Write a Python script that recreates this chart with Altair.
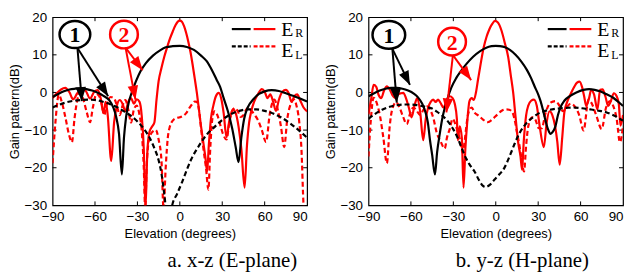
import math
import altair as alt
import pandas as pd

W, H = 257, 190
X_DOMAIN = [-90, 90]
Y_DOMAIN = [-30, 20]
X_TICKS = [-90, -60, -30, 0, 30, 60, 90]
Y_TICKS = [-30, -20, -10, 0, 10, 20]

# ---------------- panel a : x-z (E-plane) ----------------
A_BLACK_SOLID = [(-90, -1.2), (-86, -0.4), (-82, 0.3), (-78, 0.8), (-74, 1.0), (-70, 1.1), (-66, 0.9),
                 (-62, 0.5), (-58, -0.1), (-54, -0.9), (-50, -2.0), (-47, -4.0), (-45, -6.5), (-43, -11.0),
                 (-41, -21.8), (-39.5, -12.0), (-38, -6.5), (-36, -2.5), (-34, 0.0), (-31, 3.0), (-28, 5.5),
                 (-24, 7.8), (-19, 9.8), (-14, 11.2), (-10, 12.0), (-5, 12.3), (0, 12.4), (5, 12.1),
                 (10, 11.3), (15, 9.8), (19, 8.3), (23, 5.7), (26, 3.4), (28.5, 1.5), (31, -1.5), (34, -5.0),
                 (37, -9.5), (39.5, -14.5), (41.5, -18.5), (43.5, -12.0), (45.5, -7.0), (48, -4.0),
                 (52, -1.8), (56, -0.4), (60, 0.3), (65, 0.6), (70, 0.4), (75, -0.2), (80, -0.9),
                 (85, -1.6), (90, -2.4)]
A_BLACK_DASHED = [(-90, -4.0), (-85, -3.2), (-80, -2.6), (-75, -2.2), (-70, -2.0), (-65, -1.9), (-60, -2.0),
                  (-55, -2.4), (-50, -3.0), (-45, -3.8), (-40, -4.9), (-35, -6.1), (-30, -7.7), (-25, -9.9),
                  (-21, -12.3), (-18, -14.8), (-15, -18.0), (-13, -21.5), (-11, -27.0), (-9, -33.0),
                  (-7, -34.0), (-5.4, -30.0), (-2, -27.0), (1.6, -23.8), (5, -20.5), (8, -17.8), (13, -14.5),
                  (19, -11.2), (25, -9.0), (30, -7.3), (36, -5.8), (42, -4.9), (48, -4.5), (54, -4.5),
                  (60, -4.9), (66, -5.6), (72, -6.7), (78, -8.2), (84, -10.0), (90, -12.0)]
A_RED_SOLID = [(-90, -1.5), (-87, -0.2), (-84, 0.8), (-81, 1.2), (-78, 0.0), (-75.5, -1.8), (-72.5, -0.2),
               (-69.5, 0.9), (-66.5, 0.4), (-63.5, -1.6), (-60.5, 0.2), (-58, 0.6), (-56, -1.5), (-54, -5.5),
               (-52.5, -2.5), (-51, -6.0), (-48.5, -18.2), (-46.5, -8.0), (-44.5, -3.5), (-42.5, -2.0),
               (-40.5, -3.0), (-38.5, -5.0), (-36.5, -2.5), (-34.5, -1.5), (-32.5, -3.0), (-30.5, -1.8),
               (-28.5, -2.5), (-27, -6.0), (-25.5, -15.0), (-24.3, -31.0), (-23, -16.0), (-21.5, -10.5),
               (-19.5, -9.0), (-18, -8.0), (-16.5, -2.0), (-15, 3.0), (-13, 6.5), (-11, 9.5), (-9, 12.0),
               (-7, 14.3), (-5, 16.2), (-3, 17.9), (-1.5, 18.8), (0, 19.1), (1.5, 18.8), (3, 17.6),
               (4.5, 15.8), (6, 13.5), (7.5, 10.8), (9, 7.5), (10.5, 3.8), (12, 0.0), (13.5, -4.5),
               (15, -9.0), (16.5, -13.0), (18, -17.0), (19.3, -21.0), (20.5, -14.0), (22, -7.0),
               (23.7, -3.5), (25.5, -1.0), (27.5, -0.1), (29.5, -2.0), (31, -5.5), (33, -11.9), (35, -7.5),
               (37.5, -4.5), (39.5, -5.5), (41.5, -9.0), (43.5, -15.0), (45.8, -25.3), (47.5, -14.0),
               (49, -8.0), (50.5, -5.0), (52.5, -2.5), (55, -0.6), (58, 0.9), (60, 0.2), (62, -1.5),
               (64, -0.5), (66, -2.5), (68, -4.9), (70, -2.0), (72.5, 0.2), (75, 0.7), (77, -0.2),
               (79, -2.5), (81, -1.0), (83, -0.5), (85, -2.0), (87.5, -4.0), (90, -5.0)]
A_RED_DASHED = [(-90, -18.8), (-88, -8.0), (-85.6, -0.6), (-83.5, -2.5), (-81, -6.5), (-78.5, -11.0),
                (-76.3, -13.2), (-74.5, -7.0), (-72.5, -2.0), (-70.5, -0.1), (-68.5, -1.5), (-66, -5.0),
                (-63.5, -7.9), (-61.5, -4.0), (-59, -0.4), (-57, -1.0), (-55, -3.5), (-53.5, -6.0),
                (-51.5, -3.0), (-49, -1.2), (-46.5, -1.6), (-44.5, -3.5), (-42.5, -6.0), (-40.5, -3.5),
                (-38.5, -2.0), (-36.5, -4.5), (-34.5, -8.0), (-32.5, -4.5), (-30.5, -3.5), (-28.5, -6.0),
                (-27, -10.0), (-25.5, -20.0), (-24.5, -31.0), (-23.5, -20.0), (-22, -13.0), (-19.5, -10.5),
                (-17, -10.0), (-15, -12.5), (-13, -18.0), (-11.5, -31.0), (-10, -20.0), (-8.5, -12.0),
                (-7, -9.0), (-5, -7.5), (-2.5, -6.8), (0, -6.6), (2.5, -6.2), (4.5, -5.5), (6.5, -4.3),
                (8.5, -3.2), (10.5, -2.4), (12, -2.5), (13.5, -4.5), (15, -9.5), (16.7, -15.0), (18.5, -20.0),
                (20.2, -25.8), (21.5, -15.0), (23, -7.0), (24.5, -5.0), (26.5, -6.0), (28.5, -8.5),
                (30.5, -11.0), (33, -12.5), (35, -8.0), (37, -5.0), (39, -4.1), (41, -5.0), (43, -6.5),
                (45, -6.0), (47, -4.5), (48.5, -4.1), (50.5, -4.8), (53, -6.0), (55.5, -7.5), (58, -10.0),
                (61, -13.2), (63.5, -6.0), (66.8, -1.9), (69.5, -5.0), (71.5, -9.0), (73.8, -14.5),
                (76, -7.0), (78.5, -3.0), (80.7, -1.9), (82.5, -3.5), (84.5, -8.0), (86, -15.0),
                (87.5, -30.0), (88.5, -34.0), (90, -34.0)]
# circled numbers: label, deg, dB, colour, width(px), aspect
A_CIRCLES = [("1", -74.2, 15.4, "#000000", 31, 0.88), ("2", -39.5, 15.4, "#ff0000", 28, 1.0)]
# arrows: from (deg, dB) to tip (deg, dB)
A_ARROWS = [(-72.4, 11.8, -69.3, -2.3, "#000000"), (-72.4, 11.8, -50.7, -1.0, "#000000"),
            (-38.4, 11.9, -26.3, 5.9, "#ff0000"), (-38.4, 11.9, -31.4, -1.9, "#ff0000")]
A_CAPTION = "a. x-z (E-plane)"

# ---------------- panel b : y-z (H-plane) ----------------
B_BLACK_SOLID = [(-90, -1.0), (-86, -0.2), (-82, 0.5), (-78, 1.0), (-74, 1.2), (-70, 1.2), (-66, 1.0),
                 (-62, 0.5), (-58, -0.3), (-55, -1.3), (-52, -3.0), (-50, -4.9), (-48, -8.0), (-46.5, -12.7),
                 (-45, -16.5), (-43, -21.8), (-41.5, -16.0), (-39.6, -11.0), (-38, -7.3), (-36, -4.0),
                 (-34, -1.5), (-31.5, 1.2), (-28, 3.8), (-24.4, 5.8), (-20.7, 7.6), (-16, 9.5), (-11, 11.0),
                 (-6.7, 11.9), (-3, 12.3), (0, 12.4), (3, 12.3), (6.5, 12.0), (10, 11.3), (14, 10.0),
                 (18.1, 8.2), (22, 6.0), (25, 3.8), (27.5, 1.6), (30, -0.5), (31.7, -2.3), (33.5, -4.8),
                 (35.2, -7.5), (37, -9.8), (38.7, -11.0), (40.3, -10.5), (42.2, -9.0), (44, -6.0),
                 (45.7, -4.0), (48.5, -2.2), (52.7, -0.9), (57, 0.0), (62, 0.7), (66, 0.9), (70, 0.7),
                 (73.8, 0.3), (78, -0.4), (83.1, -1.4), (87, -2.6), (90, -3.6)]
B_BLACK_DASHED = [(-90, -7.0), (-85, -5.6), (-80, -4.5), (-75, -3.8), (-70, -3.4), (-65, -3.2), (-60, -3.2),
                  (-55, -3.4), (-50, -3.8), (-45.5, -4.2), (-42, -5.0), (-38, -6.1), (-34, -7.6), (-30, -9.8),
                  (-27, -12.0), (-24.4, -14.5), (-21, -17.5), (-17.4, -19.8), (-15, -21.0), (-12, -23.2),
                  (-9, -24.8), (-7, -25.1), (-4, -24.5), (-1, -23.2), (2, -22.0), (6, -20.1), (10.6, -16.2),
                  (13.5, -13.5), (16.5, -11.0), (19.5, -9.2), (22.3, -7.9), (27, -6.4), (31.7, -5.3),
                  (37, -4.7), (43.4, -4.3), (50, -4.1), (55, -4.0), (61, -4.2), (66.8, -4.5), (72, -4.8),
                  (78.4, -5.3), (84, -6.2), (90, -7.5)]
B_RED_SOLID = [(-90, -5.8), (-88, -1.5), (-86.4, 2.0), (-84.5, 1.5), (-82.9, -0.6), (-81, -1.5), (-79, 0.5),
               (-77, 1.6), (-75, 0.8), (-73, -0.8), (-71, -1.5), (-69, -0.5), (-67, -0.2), (-65.4, -0.1),
               (-63.5, -1.5), (-61.5, -4.0), (-59.5, -6.6), (-57.5, -3.5), (-55.5, -1.5), (-53.5, -5.0),
               (-51.3, -12.7), (-49.5, -7.0), (-47.8, -4.0), (-46, -2.5), (-44.3, -1.9), (-42.5, -2.5),
               (-40.8, -1.9), (-39, -2.8), (-37, -4.0), (-35, -2.5), (-32.6, -1.0), (-30.5, -1.5),
               (-29, -3.0), (-27.5, -7.0), (-26.8, -12.7), (-25.5, -9.0), (-24, -12.0), (-22.8, -25.3),
               (-21.5, -15.0), (-20.2, -8.0), (-18.6, -2.3), (-17, -1.5), (-15.5, -2.0), (-14, 0.0),
               (-12.5, 3.5), (-10.5, 8.0), (-8.5, 12.0), (-6.5, 14.8), (-4.5, 16.8), (-2.5, 18.2),
               (-0.6, 19.0), (1.5, 18.6), (4.1, 16.4), (6.5, 13.0), (8.8, 9.4), (10.6, 4.6), (12.3, 0.0),
               (14, -6.5), (15.8, -13.1), (17.5, -17.0), (18.6, -20.5), (19.8, -13.0), (21.5, -6.0),
               (23, -3.5), (25, -2.2), (27, -1.9), (29, -3.5), (31, -8.8), (34, -14.5), (36, -8.0),
               (38, -5.0), (40, -6.0), (42, -9.0), (43.5, -13.0), (45.2, -19.2), (47, -12.0), (48.5, -5.3),
               (50.5, -2.5), (52.7, -0.6), (55.5, 1.5), (57.5, 2.6), (59.3, 2.9), (61, 1.5), (62.5, -1.0),
               (64, -3.6), (66, -1.5), (67.5, 0.7), (69.5, -0.5), (71.9, -4.5), (73.8, 0.7), (75.5, 0.8),
               (77.5, -1.0), (79.5, -3.6), (81.2, -2.5), (83.5, -0.2), (85.5, -1.0), (87, -3.0),
               (88.2, -8.8), (90, -6.0)]
B_RED_DASHED = [(-90, -17.0), (-88.5, -8.0), (-86.4, -1.4), (-84, -3.0), (-81.7, -6.6), (-79.5, -12.0),
                (-77, -18.8), (-75, -9.0), (-73.5, -4.9), (-70.5, -2.6), (-68, -4.0), (-65.5, -6.5),
                (-63, -8.4), (-60.5, -5.5), (-58.3, -4.0), (-56, -4.8), (-53.5, -6.0), (-51, -4.5),
                (-49, -3.6), (-46.5, -4.5), (-44, -7.0), (-41.9, -10.5), (-39, -13.0), (-36.1, -14.9),
                (-34.5, -12.0), (-32.6, -9.8), (-30.5, -7.0), (-28.5, -8.5), (-26.5, -11.0), (-25, -13.0),
                (-23.5, -16.0), (-22, -13.0), (-20.5, -8.0), (-19, -5.0), (-17, -4.0), (-15.1, -5.3),
                (-12, -6.2), (-9, -7.2), (-5.7, -7.9), (-2, -7.0), (1.3, -5.8), (4.5, -4.8), (7.2, -4.5),
                (9.5, -4.6), (11.8, -5.3), (13.5, -7.5), (15.2, -11.0), (16.5, -13.5), (18.2, -17.5),
                (20, -21.0), (21.5, -14.0), (23, -9.0), (25.8, -6.6), (28, -7.2), (30.5, -9.5),
                (32.5, -9.5), (35.2, -5.5), (38.7, -2.7), (42.2, -2.3), (45, -3.5), (47.5, -5.0), (50, -4.0),
                (53, -3.0), (56, -3.8), (59, -6.0), (62.1, -10.1), (65.6, -1.9), (68, -3.0), (71, -6.0),
                (74.9, -9.7), (78, -4.0), (80.8, -2.3), (83, -3.5), (85.5, -7.0), (87.8, -13.2), (90, -9.0)]
B_CIRCLES = [("1", -75.6, 15.3, "#000000", 33, 0.85), ("2", -30.9, 13.5, "#ff0000", 28, 1.0)]
B_ARROWS = [(-73.1, 11.6, -70.0, -2.7, "#000000"), (-73.1, 11.6, -60.7, 2.0, "#000000"),
            (-30.3, 9.9, -17.4, 3.3, "#ff0000"), (-30.3, 9.9, -34.9, -5.3, "#ff0000")]
B_CAPTION = "b. y-z (H-plane)"

SANS = "Liberation Sans"
SERIF = "Liberation Serif"
BLACK, RED = "#000000", "#ff0000"

XS = alt.Scale(domain=X_DOMAIN, nice=False, zero=False)
YS = alt.Scale(domain=Y_DOMAIN, nice=False, zero=False)
X_TITLE = "Elevation (degrees)"
Y_TITLE = "Gain pattern(dB)"
XAX = alt.Axis(values=X_TICKS, format="d", labelPadding=4, titlePadding=5,
               labelAlign={"condition": {"test": "datum.value == 90", "value": "right"}, "value": "center"})
YAX = alt.Axis(values=Y_TICKS, format="d", labelPadding=6, titlePadding=2)


def XE(field):
    return alt.X(field, type="quantitative", scale=XS, title=X_TITLE, axis=XAX)


def YE(field):
    return alt.Y(field, type="quantitative", scale=YS, title=Y_TITLE, axis=YAX)


def one():
    return pd.DataFrame({"k": [0]})


def curve(points, color, dashed):
    df = pd.DataFrame(points, columns=["deg", "db"])
    kw = dict(color=color, strokeWidth=2.2, clip=True, interpolate="monotone")
    if dashed:
        kw["strokeDash"] = [5, 3]
    return alt.Chart(df).mark_line(**kw).encode(x=XE("deg"), y=YE("db"), order="deg:Q")


def panel(bs, bd, rs, rd, circles, arrows, caption, cap_x):
    layers = []

    # inner ticks on all four sides
    xt = pd.DataFrame({"v": X_TICKS[1:-1]})
    yt = pd.DataFrame({"v": Y_TICKS[1:-1]})
    for y0, y1 in [(0, 4), (H - 4, H)]:
        layers.append(alt.Chart(xt).mark_rule(color=BLACK, strokeWidth=1).encode(
            x=XE("v"), y=alt.value(y0), y2=alt.value(y1)))
    for x0, x1 in [(0, 4), (W - 4, W)]:
        layers.append(alt.Chart(yt).mark_rule(color=BLACK, strokeWidth=1).encode(
            y=YE("v"), x=alt.value(x0), x2=alt.value(x1)))

    layers += [curve(rd, RED, True), curve(rs, RED, False), curve(bd, BLACK, True), curve(bs, BLACK, False)]

    # arrows
    adf = pd.DataFrame(arrows, columns=["x0", "y0", "x1", "y1", "c"])
    adf["ang"] = [
        math.degrees(math.atan2((r.x1 - r.x0) * W / 180.0, (r.y1 - r.y0) * H / 50.0)) % 360
        for r in adf.itertuples()
    ]
    layers.append(alt.Chart(adf).mark_rule(strokeWidth=2).encode(
        x=XE("x0"), y=YE("y0"), x2="x1:Q", y2="y1:Q", color=alt.Color("c:N", scale=None)))
    layers.append(alt.Chart(adf).mark_point(shape="M0,0 L-0.75,2 L0.75,2 Z", filled=True, size=200,
                                            opacity=1).encode(
        x=XE("x1"), y=YE("y1"), angle=alt.Angle("ang:Q", scale=None), color=alt.Color("c:N", scale=None)))

    # circled numbers
    for lab, cx, cy, col, wpx, asp in circles:
        cdf = pd.DataFrame({"x": [cx], "y": [cy], "t": [lab]})
        shape = f"M-1,0 A1,{asp} 0 1,1 1,0 A1,{asp} 0 1,1 -1,0 Z"
        layers.append(alt.Chart(cdf).mark_point(shape=shape, filled=False, size=wpx * wpx,
                                                strokeWidth=2.5, color=col, opacity=1).encode(
            x=XE("x"), y=YE("y")))
        layers.append(alt.Chart(cdf).mark_text(font=SERIF, fontWeight="bold", fontSize=22, color=col,
                                               baseline="middle", align="center", dy=1).encode(
            x=XE("x"), y=YE("y"), text="t:N"))

    # legend
    for (x0, x1, yy, col, dash) in [(181, 200, 12, BLACK, False), (203, 225, 12, RED, False),
                                     (181, 200, 29.5, BLACK, True), (203, 225, 29.5, RED, True)]:
        kw = dict(color=col, strokeWidth=2.2)
        if dash:
            kw["strokeDash"] = [4, 2]
        layers.append(alt.Chart(one()).mark_rule(**kw).encode(
            x=alt.value(x0), x2=alt.value(x1), y=alt.value(yy)))
    for (tx, ty, txt, fs) in [(231, 18.7, "E", 20), (245, 19.6, "R", 12),
                              (231, 40.4, "E", 20), (245, 42.0, "L", 12)]:
        layers.append(alt.Chart(one()).mark_text(font=SERIF, fontSize=fs, color=BLACK, align="left",
                                                 baseline="alphabetic", text=txt).encode(
            x=alt.value(tx), y=alt.value(ty)))

    # caption
    layers.append(alt.Chart(one()).mark_text(font=SERIF, fontSize=21, color=BLACK, align="left",
                                             baseline="alphabetic", text=caption).encode(
        x=alt.value(cap_x), y=alt.value(252)))

    return alt.layer(*layers).properties(width=W, height=H)


left = panel(A_BLACK_SOLID, A_BLACK_DASHED, A_RED_SOLID, A_RED_DASHED, A_CIRCLES, A_ARROWS, A_CAPTION, 116)
right = panel(B_BLACK_SOLID, B_BLACK_DASHED, B_RED_SOLID, B_RED_DASHED, B_CIRCLES, B_ARROWS, B_CAPTION, 88)

chart = alt.hconcat(left, right, spacing=15).properties(
    padding={"left": 0, "top": 0, "right": 0, "bottom": 0}, background="white"
).configure_view(stroke=BLACK, strokeWidth=1.2).configure_axis(
    domain=False, ticks=False, grid=False, labelFont=SANS, labelFontSize=13.5, labelColor=BLACK,
    titleFont=SANS, titleFontSize=13, titleFontWeight="normal", titleColor=BLACK
)

chart.save("out.html", embed_options={"renderer": "svg", "actions": False})
